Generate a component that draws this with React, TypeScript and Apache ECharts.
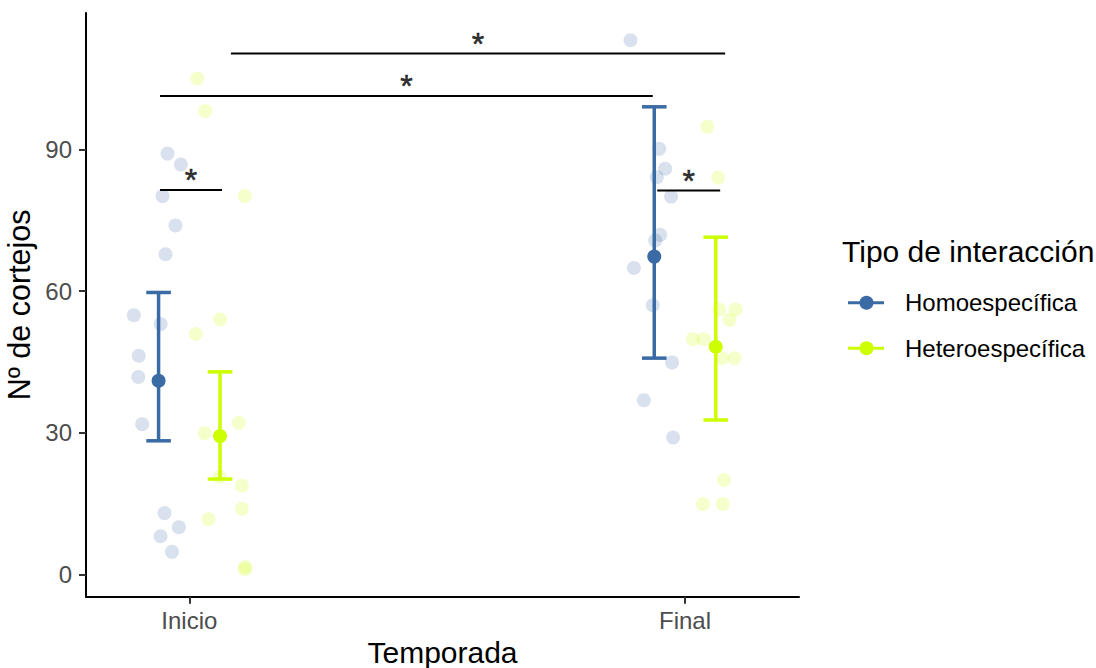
import React, { useEffect, useRef } from "react";
import * as echarts from "echarts";

const categories = ["Inicio", "Final"];
const groups = ["Homoespecífica", "Heteroespecífica"];
const yTicks = [0, 30, 60, 90];

// raw observations: [jittered x position (1 = Inicio, 2 = Final), value]
const homoPoints = [
  [0.956, 89.1], [0.983, 86.8], [0.946, 80.1], [0.972, 73.9], [0.952, 67.8],
  [0.888, 54.9], [0.942, 53.0], [0.898, 46.3], [0.897, 41.8], [0.905, 31.8],
  [0.950, 13.0], [0.979, 10.0], [0.942, 8.1], [0.965, 4.8],
  [1.890, 113.1], [1.948, 90.1], [1.960, 85.9], [1.943, 84.1], [1.972, 80.0],
  [1.950, 71.9], [1.940, 70.7], [1.897, 64.9], [1.935, 57.0], [1.974, 44.9],
  [1.917, 36.9], [1.976, 29.0],
];
const heteroPoints = [
  [1.016, 105.0], [1.032, 98.1], [1.112, 80.1], [1.062, 54.0], [1.013, 50.9],
  [1.100, 32.1], [1.031, 29.9], [1.061, 20.7], [1.106, 18.8], [1.106, 13.9],
  [1.039, 11.7], [1.113, 1.6], [1.112, 1.1],
  [2.045, 94.8], [2.067, 84.0], [2.069, 56.1], [2.102, 56.1], [2.090, 53.9],
  [2.016, 49.8], [2.038, 49.8], [2.075, 45.8], [2.100, 45.8], [2.079, 20.0],
  [2.036, 14.9], [2.076, 14.9],
];

// summary: mean and interval per season
const homoMean = [41.0, 67.3];
const homoLow = [28.3, 45.8];
const homoHigh = [59.7, 99.0];
const heteroMean = [29.3, 48.2];
const heteroLow = [20.2, 32.7];
const heteroHigh = [42.9, 71.4];
const dodge = 0.062;

// significance brackets
const bracketStart = [1.084, 0.941, 0.941, 1.944];
const bracketEnd = [2.081, 1.935, 1.066, 2.071];
const bracketY = [110.3, 101.3, 81.4, 81.3];
const bracketLabel = ["*", "*", "*", "*"];

const HOMO = "#3B6BA5";
const HETERO = "#CCFF00";
const FONT = "'Liberation Sans', Arial, sans-serif";

export default function App() {
  const ref = useRef<HTMLDivElement>(null);
  useEffect(() => {
    if (!ref.current) return;
    const chart = echarts.init(ref.current, null, { renderer: "svg" });

    const errorSeries = (name: string, color: string, offset: number, low: number[], high: number[]) => ({
      type: "custom",
      name,
      z: 3,
      data: categories.map((_, i) => [i + 1 + offset, low[i], high[i]]),
      encode: { x: 0, y: [1, 2] },
      renderItem: (params: any, api: any) => {
        const x = api.value(0);
        const pLo = api.coord([x, api.value(1)]);
        const pHi = api.coord([x, api.value(2)]);
        const w = 12.3;
        const st = { stroke: color, lineWidth: 3.5 };
        return {
          type: "group",
          children: [
            { type: "line", shape: { x1: pLo[0], y1: pLo[1], x2: pHi[0], y2: pHi[1] }, style: st },
            { type: "line", shape: { x1: pHi[0] - w, y1: pHi[1], x2: pHi[0] + w, y2: pHi[1] }, style: st },
            { type: "line", shape: { x1: pLo[0] - w, y1: pLo[1], x2: pLo[0] + w, y2: pLo[1] }, style: st },
          ],
        };
      },
    });

    const bracketSeries = bracketStart.map((s, i) => ({
      type: "line",
      z: 6,
      symbol: "none",
      silent: true,
      lineStyle: { color: "#000", width: 2 },
      data: [[s, bracketY[i]], [bracketEnd[i], bracketY[i]]],
    }));

    const option: any = {
      animation: false,
      backgroundColor: "#fff",
      grid: {
        left: 86,
        top: 13,
        width: 713,
        height: 583.7,
        containLabel: false,
        outerBoundsMode: "none",
      },
      xAxis: {
        type: "value",
        min: 0.7916,
        max: 2.23,
        name: "Temporada",
        nameLocation: "middle",
        nameGap: 36,
        nameTextStyle: { fontFamily: FONT, fontSize: 30, color: "#000" },
        axisLine: { show: true, onZero: false, lineStyle: { color: "#000", width: 2 } },
        axisTick: { show: true, customValues: [1, 2], length: 7, lineStyle: { color: "#333", width: 2 } },
        axisLabel: {
          customValues: [1, 2],
          formatter: (v: number) => categories[Math.round(v) - 1] ?? "",
          margin: 12,
          fontFamily: FONT,
          fontSize: 24,
          color: "#4D4D4D",
        },
        splitLine: { show: false },
      },
      yAxis: {
        type: "value",
        min: -4.7,
        max: 118.86,
        name: "Nº de cortejos",
        nameLocation: "middle",
        nameGap: 47,
        nameTextStyle: { fontFamily: FONT, fontSize: 30.5, color: "#000" },
        axisLine: { show: true, onZero: false, lineStyle: { color: "#000", width: 2 } },
        axisTick: { show: true, customValues: yTicks, length: 7, lineStyle: { color: "#333", width: 2 } },
        axisLabel: {
          customValues: yTicks,
          margin: 14,
          fontFamily: FONT,
          fontSize: 24,
          color: "#4D4D4D",
          padding: [3, 0, 0, 0],
        },
        splitLine: { show: false },
      },
      series: [
        {
          type: "scatter",
          name: groups[0] + " obs",
          z: 1,
          symbolSize: 14,
          itemStyle: { color: HOMO, opacity: 0.2 },
          data: homoPoints,
        },
        {
          type: "scatter",
          name: groups[1] + " obs",
          z: 1,
          symbolSize: 14,
          itemStyle: { color: HETERO, opacity: 0.2 },
          data: heteroPoints,
        },
        errorSeries(groups[0], HOMO, -dodge, homoLow, homoHigh),
        errorSeries(groups[1], HETERO, dodge, heteroLow, heteroHigh),
        {
          type: "scatter",
          name: groups[0],
          z: 4,
          symbolSize: 14,
          itemStyle: { color: HOMO, opacity: 1 },
          data: categories.map((_, i) => [i + 1 - dodge, homoMean[i]]),
        },
        {
          type: "scatter",
          name: groups[1],
          z: 4,
          symbolSize: 14,
          itemStyle: { color: HETERO, opacity: 1 },
          data: categories.map((_, i) => [i + 1 + dodge, heteroMean[i]]),
        },
        ...bracketSeries,
        {
          type: "scatter",
          name: "signif",
          z: 7,
          silent: true,
          symbolSize: 1,
          itemStyle: { color: "rgba(0,0,0,0)" },
          data: bracketStart.map((s, i) => [(s + bracketEnd[i]) / 2, bracketY[i]]),
          label: {
            show: true,
            position: "top",
            distance: 0,
            offset: [0, 7],
            formatter: (p: any) => bracketLabel[p.dataIndex],
            fontFamily: FONT,
            fontSize: 32,
            color: "#000",
            textBorderColor: "#000",
            textBorderWidth: 0.6,
          },
        },
      ],
      graphic: [
        {
          type: "text",
          left: 842,
          top: 236,
          style: { text: "Tipo de interacción", fontFamily: FONT, fontSize: 30, fill: "#000" },
        },
        { type: "line", shape: { x1: 848, y1: 302.7, x2: 884, y2: 302.7 }, style: { stroke: HOMO, lineWidth: 3 } },
        { type: "circle", shape: { cx: 866.5, cy: 302.7, r: 7 }, style: { fill: HOMO } },
        {
          type: "text",
          left: 905,
          top: 290,
          style: { text: groups[0], fontFamily: FONT, fontSize: 24, fill: "#000" },
        },
        { type: "line", shape: { x1: 848, y1: 348.3, x2: 884, y2: 348.3 }, style: { stroke: HETERO, lineWidth: 3 } },
        { type: "circle", shape: { cx: 866.5, cy: 348.3, r: 7 }, style: { fill: HETERO } },
        {
          type: "text",
          left: 905,
          top: 336,
          style: { text: groups[1], fontFamily: FONT, fontSize: 24, fill: "#000" },
        },
      ],
    };
    chart.setOption(option);
    return () => chart.dispose();
  }, []);
  return (
    <div
      ref={ref}
      style={{ position: "fixed", left: 0, top: 0, width: 1096, height: 668, background: "#fff" }}
    />
  );
}
